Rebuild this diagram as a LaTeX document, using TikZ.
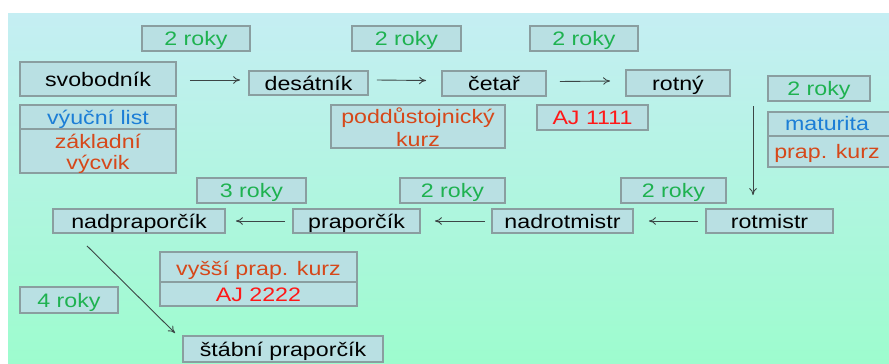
\documentclass[tikz,border=0pt]{standalone}
\usepackage{fontspec}
\setmainfont[FakeStretch=1.19]{Liberation Sans}
\usetikzlibrary{arrows.meta}
\definecolor{bgtop}{RGB}{197,238,243}
\definecolor{bgbot}{RGB}{157,252,206}
\definecolor{boxfill}{RGB}{185,224,227}
\definecolor{boxline}{RGB}{138,158,160}
\definecolor{tgreen}{RGB}{30,178,80}
\definecolor{tblue}{RGB}{28,126,214}
\definecolor{torange}{RGB}{214,72,26}
\definecolor{tred}{RGB}{255,24,24}
\definecolor{arrowc}{RGB}{60,70,70}
\tikzset{
  bx/.style={draw=boxline, line width=1.8pt, fill=boxfill, rectangle, inner sep=0pt,
    text height=14pt, text depth=0pt, font=\fontsize{19.5}{22}\selectfont},
  txt/.style={inner sep=0pt, text height=14pt, text depth=0pt, font=\fontsize{19.5}{22}\selectfont},
  arr/.style={draw=arrowc, line width=0.9pt, -{To[length=7pt,width=7.5pt]}},
}
\newcommand{\bxat}[6]{% name, x1, y1, x2, y2, text
  \node[bx, minimum width={(#4-#2)*1pt}, minimum height={(#5-#3)*1pt}] (#1) at ({(#2+#4)/2},{(#3+#5)/2}) {#6};}
\begin{document}
\begin{tikzpicture}[x=1pt,y=-1pt]
\useasboundingbox (0,0) rectangle (889,364);
\fill[white] (0,0) rectangle (889,364);
\shade[top color=bgtop, bottom color=bgbot] (8,13) rectangle (889,363);
% top durations
\bxat{d1}{142}{26}{250}{51}{\textcolor{tgreen}{2 roky}}
\bxat{d2}{352}{26}{461}{51}{\textcolor{tgreen}{2 roky}}
\bxat{d3}{530}{26}{638}{51}{\textcolor{tgreen}{2 roky}}
\bxat{d4}{768}{76}{870}{101}{\textcolor{tgreen}{2 roky}}
% row 1 ranks
\bxat{svob}{20}{62}{176}{96}{svobodník}
\bxat{des}{249}{71}{368}{95}{desátník}
\bxat{cet}{442}{71}{546}{96}{četař}
\bxat{rot}{626}{70}{730}{96}{rotný}
% requirements row 1
\bxat{vl}{20}{105}{176}{129}{\textcolor{tblue}{výuční list}}
\bxat{zv}{20}{129}{176}{173}{}
\node[txt, text=torange] (zv1) at (98,141) {základní};
\node[txt, text=torange] (zv2) at (98,162) {výcvik};
\bxat{pk}{331}{105}{505}{148}{}
\node[txt, text=torange] (pk1) at (418,116) {poddůstojnický};
\node[txt, text=torange] (pk2) at (418,139) {kurz};
\bxat{aj1}{537}{105}{648}{130}{\textcolor{tred}{AJ 1111}}
\bxat{mat}{768}{112}{895}{136}{}
\node[txt, text=tblue] (mat1) at (827,123.5) {maturita};
\bxat{pkz}{768}{136}{895}{167}{}
\node[txt, text=torange] (pkz1) at (827,151) {prap. kurz};
% row 2 durations
\bxat{e1}{197}{178}{306}{203}{\textcolor{tgreen}{3 roky}}
\bxat{e2}{400}{178}{505}{203}{\textcolor{tgreen}{2 roky}}
\bxat{e3}{621}{178}{726}{203}{\textcolor{tgreen}{2 roky}}
% row 2 ranks
\bxat{nadpr}{53}{209}{225}{233}{nadpraporčík}
\bxat{prap}{293}{209}{420}{233}{praporčík}
\bxat{nadrot}{492}{209}{633}{233}{nadrotmistr}
\bxat{rotm}{706}{209}{833}{233}{rotmistr}
% bottom
\bxat{vpk}{160}{252}{357}{282}{}
\node[txt, text=torange] (vpk1) at (258.5,268) {vyšší prap. kurz};
\bxat{aj2}{160}{282}{357}{306}{\textcolor{tred}{AJ 2222}}
\bxat{r4}{20}{287}{118}{313}{\textcolor{tgreen}{4 roky}}
\bxat{stab}{183}{336}{383}{362}{štábní praporčík}
% arrows row 1
\draw[arr] ([xshift=13pt,yshift=-1pt]svob.east) -- ([xshift=-8pt,yshift=3pt]des.west);
\draw[arr] ([xshift=8pt,yshift=3pt]des.east) -- ([xshift=-15pt,yshift=3pt]cet.west);
\draw[arr] ([xshift=13pt,yshift=2pt]cet.east) -- ([xshift=-15pt,yshift=2pt]rot.west);
% vertical arrow
\coordinate (vs) at (753,106);
\draw[arr] (vs) -- ([xshift=-16.5pt,yshift=13pt]rotm.north);
% arrows row 2
\draw[arr] ([xshift=-7pt]rotm.west) -- ([xshift=15pt]nadrot.east);
\draw[arr] ([xshift=-6pt]nadrot.west) -- ([xshift=14pt]prap.east);
\draw[arr] ([xshift=-7pt]prap.west) -- ([xshift=10pt]nadpr.east);
% diagonal
\draw[arr] ([xshift=-52pt,yshift=-12pt]nadpr.south) -- ([xshift=-7pt,yshift=2pt]stab.north west);
\end{tikzpicture}
\end{document}
